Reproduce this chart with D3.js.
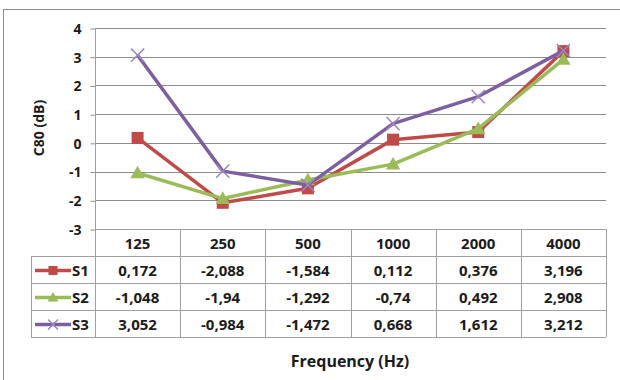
<!DOCTYPE html>
<html>
<head>
<meta charset="utf-8">
<script src="https://cdn.jsdelivr.net/npm/d3@7"></script>
<style>
  body { margin: 0; background: #fff; }
  text { font-family: "Open Sans", sans-serif; font-weight: bold; fill: #1b1b1b; }
</style>
</head>
<body>
<div id="chart"></div>
<script>
var categories = ["125", "250", "500", "1000", "2000", "4000"];
var seriesNames = ["S1", "S2", "S3"];
var s1 = [0.172, -2.088, -1.584, 0.112, 0.376, 3.196];
var s2 = [-1.048, -1.94, -1.292, -0.74, 0.492, 2.908];
var s3 = [3.052, -0.984, -1.472, 0.668, 1.612, 3.212];
var yTicks = [-3, -2, -1, 0, 1, 2, 3, 4];
var colors = ["#be4b48", "#9bbb59", "#7d5fa0"];
var markers = ["square", "triangle", "cross"];

drawChart();

function drawChart() {
    var series = seriesNames.map(function(n, i) {
        return { name: n, values: [s1, s2, s3][i], color: colors[i], marker: markers[i] };
    });

    var W = 620, H = 380;
    var svg = d3.select("#chart").append("svg").attr("width", W).attr("height", H);

    // outer frame (right/bottom edges fall outside the picture)
    svg.append("rect").attr("x", 3.5).attr("y", 9.5).attr("width", 640).attr("height", 400)
        .attr("fill", "none").attr("stroke", "#8a8a8a");

    var left = 95, right = 606, plotTop = 28, bottom = 229;
    var rowH = 27, legendLeft = 31;

    var x = d3.scaleBand().domain(categories).range([left, right]);
    var y = d3.scaleLinear().domain([-3, 4]).range([bottom, plotTop]);

    // gridlines
    svg.append("g").selectAll("line").data(yTicks.filter(function(d) { return d > -3; }))
        .enter().append("line")
        .attr("x1", left).attr("x2", right)
        .attr("y1", function(d) { return Math.round(y(d)) + 0.5; })
        .attr("y2", function(d) { return Math.round(y(d)) + 0.5; })
        .attr("stroke", "#8c8c8c");

    // y axis (plain hyphen for negatives, like the original)
    var yAxis = d3.axisLeft(y).tickValues(yTicks).tickSize(5).tickPadding(9)
        .tickFormat(function(d) { return String(d); });
    var ga = svg.append("g").attr("transform", "translate(" + (left + 0.5) + ",0.5)").call(yAxis);
    ga.select(".domain").remove();
    ga.selectAll("line").attr("stroke", "#8c8c8c");
    ga.selectAll("text").style("font-size", "14px").attr("fill", "#1b1b1b")
        .attr("font-family", null).attr("dy", "0.35em");

    // data table
    var tableBottom = bottom + rowH * 4;
    var grid = svg.append("g").attr("stroke", "#a0a0a0").attr("fill", "none");
    grid.append("line").attr("x1", left).attr("x2", right).attr("y1", bottom + 0.5).attr("y2", bottom + 0.5);
    d3.range(1, 5).forEach(function(r) {
        grid.append("line").attr("x1", legendLeft).attr("x2", right)
            .attr("y1", bottom + r * rowH + 0.5).attr("y2", bottom + r * rowH + 0.5);
    });
    categories.forEach(function(c) {
        var xx = Math.round(x(c) + x.bandwidth()) + 0.5;
        grid.append("line").attr("x1", xx).attr("x2", xx).attr("y1", bottom).attr("y2", tableBottom);
    });
    grid.append("line").attr("x1", left + 0.5).attr("x2", left + 0.5).attr("y1", plotTop).attr("y2", tableBottom);
    grid.append("line").attr("x1", legendLeft + 0.5).attr("x2", legendLeft + 0.5).attr("y1", bottom + rowH).attr("y2", tableBottom);

    // header
    svg.append("g").selectAll("text").data(categories).enter().append("text")
        .attr("x", function(d) { return x(d) + x.bandwidth() / 2; })
        .attr("y", bottom + rowH / 2 + 1)
        .attr("dy", "0.35em")
        .attr("text-anchor", "middle")
        .style("font-size", "15px")
        .text(function(d) { return d; });

    function fmt(v) { return String(v).replace(".", ","); }

    function drawMarker(g, type, color, cx, cy, s) {
        if (type === "square") {
            g.append("rect").attr("x", cx - s / 2).attr("y", cy - s / 2).attr("width", s).attr("height", s)
                .attr("fill", color);
        } else if (type === "triangle") {
            g.append("path").attr("d", "M" + cx + "," + (cy - s * 0.6) + "L" + (cx + s * 0.6) + "," + (cy + s * 0.45) +
                "L" + (cx - s * 0.6) + "," + (cy + s * 0.45) + "Z").attr("fill", color);
        } else {
            var r = s * 0.55;
            g.append("path").attr("d", "M" + (cx - r) + "," + (cy - r) + "L" + (cx + r) + "," + (cy + r) +
                "M" + (cx - r) + "," + (cy + r) + "L" + (cx + r) + "," + (cy - r))
                .attr("stroke", "#9d86c0").attr("stroke-width", 1.5).attr("fill", "none");
        }
    }

    series.forEach(function(s, i) {
        var ry = bottom + rowH * (i + 1) + rowH / 2 + 1;
        var row = svg.append("g");
        row.append("line").attr("x1", 35).attr("x2", 71).attr("y1", ry).attr("y2", ry)
            .attr("stroke", s.color).attr("stroke-width", 3.5);
        drawMarker(row, s.marker, s.color, 53, ry, 9);
        row.append("text").attr("x", 72).attr("y", ry).attr("dy", "0.35em")
            .style("font-size", "15px").text(s.name);
        row.selectAll("text.val").data(s.values).enter().append("text")
            .attr("class", "val")
            .attr("x", function(d, j) { return x(categories[j]) + x.bandwidth() / 2; })
            .attr("y", ry).attr("dy", "0.35em")
            .attr("text-anchor", "middle")
            .style("font-size", "15px")
            .text(fmt);
    });

    // lines
    var line = d3.line()
        .x(function(d, j) { return x(categories[j]) + x.bandwidth() / 2; })
        .y(function(d) { return y(d); });

    series.forEach(function(s) {
        var g = svg.append("g");
        g.append("path").datum(s.values).attr("d", line)
            .attr("fill", "none").attr("stroke", s.color).attr("stroke-width", 3.5)
            .attr("stroke-linejoin", "round");
        s.values.forEach(function(v, j) {
            drawMarker(g, s.marker, s.color, x(categories[j]) + x.bandwidth() / 2, y(v), 12);
        });
    });

    // axis titles
    svg.append("text").attr("x", 350).attr("y", 361).attr("dy", "0.35em")
        .attr("text-anchor", "middle").style("font-size", "16px").text("Frequency (Hz)");
    svg.append("text").attr("transform", "translate(39,128) rotate(-90)").attr("dy", "0.35em")
        .attr("text-anchor", "middle").style("font-size", "14px").text("C80 (dB)");
}
</script>
</body>
</html>
